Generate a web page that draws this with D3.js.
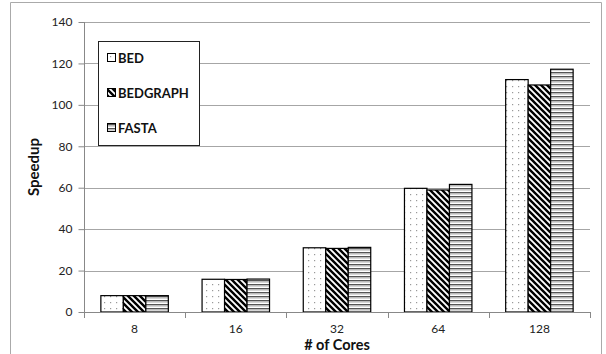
<!DOCTYPE html>
<html><head><meta charset="utf-8">
<script src="https://cdn.jsdelivr.net/npm/d3@7"></script>
<style>body{margin:0;background:#fff;} svg{display:block;font-family:Lato,"Open Sans",sans-serif;}</style>
</head><body>
<svg id="c" width="606" height="354"></svg>
<script>
const categories = ["8","16","32","64","128"];
const seriesNames = ["BED","BEDGRAPH","FASTA"];
const bed = [7.9, 15.8, 31.0, 59.7, 112.2];
const bedgraph = [7.9, 15.7, 30.7, 58.9, 109.6];
const fasta = [7.9, 15.9, 31.2, 61.6, 117.2];
const yTicks = [0,20,40,60,80,100,120,140];

const svg = d3.select("#c");
const defs = svg.append("defs");
// dotted
const pd = defs.append("pattern").attr("id","p0").attr("patternUnits","userSpaceOnUse").attr("width",6).attr("height",6);
pd.append("rect").attr("width",6).attr("height",6).attr("fill","#fff");
pd.append("rect").attr("x",2).attr("y",2).attr("width",1.2).attr("height",1.2).attr("fill","#999");
// diagonal
const pg = defs.append("pattern").attr("id","p1").attr("patternUnits","userSpaceOnUse").attr("width",6).attr("height",6);
pg.append("rect").attr("width",6).attr("height",6).attr("fill","#fff");
pg.append("path").attr("d","M-1,-1 L7,7 M-4,2 L1,7 M5,-1 L8,2").attr("stroke","#000").attr("stroke-width",2.4);
// horizontal
const ph = defs.append("pattern").attr("id","p2").attr("patternUnits","userSpaceOnUse").attr("width",6).attr("height",4);
ph.append("rect").attr("width",6).attr("height",4).attr("fill","#fff");
ph.append("rect").attr("y",0).attr("width",6).attr("height",1.4).attr("fill","#555");
ph.append("rect").attr("y",2).attr("width",6).attr("height",0.8).attr("fill","#ccc");

// outer border
svg.append("path").attr("d","M10.5,354 V2.5 H601.5 V354").attr("fill","none").attr("stroke","#aaa");

const m = {l:84, r:590, t:22, b:312};
const x = d3.scaleBand().domain(categories).range([m.l,m.r]);
const xs = d3.scaleBand().domain(seriesNames).range([0, x.bandwidth()]).paddingOuter(0.75).paddingInner(0);
const y = d3.scaleLinear().domain([0,140]).range([m.b,m.t]);

// gridlines
svg.append("g").selectAll("line").data(yTicks.filter(d=>d>0)).join("line")
  .attr("x1",m.l).attr("x2",m.r).attr("y1",d=>Math.round(y(d))+0.5).attr("y2",d=>Math.round(y(d))+0.5)
  .attr("stroke","#a6a6a6").attr("stroke-width",1);

// y axis
const ya = svg.append("g").attr("transform",`translate(${m.l+0.5},0)`)
  .call(d3.axisLeft(y).tickValues(yTicks).tickSize(6).tickPadding(6));
ya.select(".domain").attr("stroke","#888").attr("d",`M0,${m.t}V${m.b}`);
ya.selectAll(".tick line").attr("stroke","#888").attr("x1",-6).attr("x2",0);
ya.selectAll("text").attr("font-size",12).attr("fill","#222").attr("font-family","Lato, sans-serif");

// bars
const data = [bed, bedgraph, fasta];
const g = svg.append("g");
seriesNames.forEach((s,i)=>{
  g.selectAll(null).data(categories).join("rect")
    .attr("x",(c)=>x(c)+xs(s)).attr("width",xs.bandwidth())
    .attr("y",(c,j)=>y(data[i][j])).attr("height",(c,j)=>m.b-y(data[i][j]))
    .attr("fill",`url(#p${i})`).attr("stroke","#000").attr("stroke-width",1.2);
});

// x axis
const xa = svg.append("g").attr("transform",`translate(0,${m.b+0.5})`)
  .call(d3.axisBottom(x).tickSize(0).tickPadding(12));
xa.select(".domain").attr("stroke","#888").attr("d",`M${m.l},0H${m.r}`);
xa.selectAll("text").attr("font-size",12).attr("fill","#222").attr("font-family","Lato, sans-serif");
const bounds = categories.map(c=>x(c)).concat([m.r]);
svg.append("g").selectAll("line").data(bounds).join("line")
  .attr("x1",d=>Math.round(d)+0.5).attr("x2",d=>Math.round(d)+0.5).attr("y1",m.b).attr("y2",m.b+6).attr("stroke","#888");

// titles
svg.append("text").attr("x",337).attr("y",350).attr("text-anchor","middle")
  .attr("font-weight","bold").attr("font-size",14.5).attr("fill","#111").text("# of Cores");
svg.append("text").attr("transform","translate(39,167) rotate(-90)").attr("text-anchor","middle")
  .attr("font-weight","bold").attr("font-size",15).attr("fill","#111").text("Speedup");

// legend
const lg = svg.append("g");
lg.append("rect").attr("x",98.5).attr("y",41.5).attr("width",101).attr("height",104).attr("fill","#fff").attr("stroke","#222");
const ly = [58, 93, 128];
seriesNames.forEach((s,i)=>{
  lg.append("rect").attr("x",107.5).attr("y",ly[i]-4.5).attr("width",8).attr("height",8)
    .attr("fill",`url(#p${i})`).attr("stroke","#000");
  lg.append("text").attr("x",118).attr("y",ly[i]+4.5).attr("font-weight","bold").attr("font-size",13).attr("fill","#111").text(s);
});
</script>
</body></html>
